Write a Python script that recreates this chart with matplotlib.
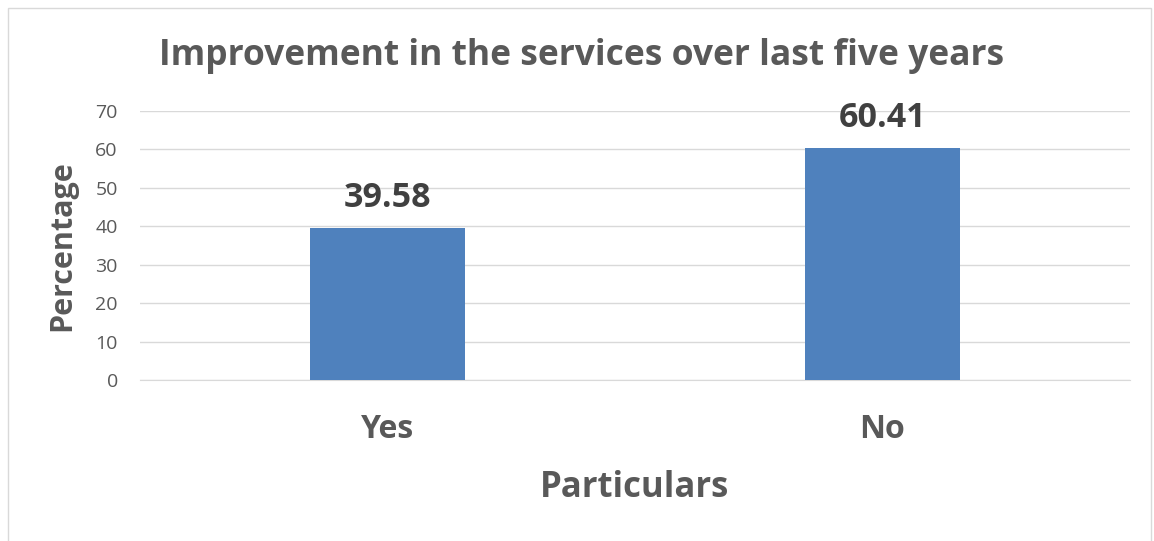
import matplotlib.pyplot as plt
from matplotlib.patches import Rectangle

categories = ['Yes', 'No']
percentages = [39.58, 60.41]
y_ticks = [0, 10, 20, 30, 40, 50, 60, 70]

plt.rcParams['font.family'] = ['Open Sans', 'DejaVu Sans']

fig = plt.figure(figsize=(11.54, 5.41), dpi=100)
ax = fig.add_axes([0.1213, 0.2976, 0.8577, 0.4974])

x = range(len(categories))
bars = ax.bar(x, percentages, width=0.313, color='#4F81BD', zorder=3)

for b, v in zip(bars, percentages):
    ax.annotate('%.2f' % v, (b.get_x() + b.get_width() / 2, v),
                xytext=(0, 15), textcoords='offset points',
                ha='center', va='baseline', fontsize=24.5, fontweight='bold',
                color='#404040')

ax.set_xlim(-0.5, 1.5)
ax.set_ylim(0, 70)
ax.set_yticks(y_ticks)
ax.set_xticks(list(x))
ax.set_xticklabels(categories, fontsize=23, fontweight='bold', color='#595959')
ax.tick_params(axis='y', labelsize=14, colors='#595959', length=0, pad=16)
ax.tick_params(axis='x', length=0, pad=24)
ax.grid(axis='y', color='#D9D9D9', linewidth=1, zorder=0)
for s in ['top', 'right', 'left']:
    ax.spines[s].set_visible(False)
ax.spines['bottom'].set_color('#D9D9D9')

ax.set_xlabel('Particulars', fontsize=25, fontweight='bold', color='#595959')
ax.xaxis.label.set_va('baseline')
ax.xaxis.set_label_coords(0.5, -0.435)
ax.set_ylabel('Percentage', fontsize=22, fontweight='bold', color='#595959')
ax.yaxis.label.set_va('center')
ax.yaxis.set_label_coords(-0.0788, 0.5)
fig.text(0.504, 0.88, 'Improvement in the services over last five years',
         ha='center', va='baseline', fontsize=25.5, fontweight='bold',
         color='#595959')

fig.patches.append(Rectangle((0.007, -0.01), 0.99, 0.995,
                             transform=fig.transFigure, fill=False,
                             edgecolor='#D9D9D9', linewidth=1))

fig.savefig('out.png', dpi=100)
